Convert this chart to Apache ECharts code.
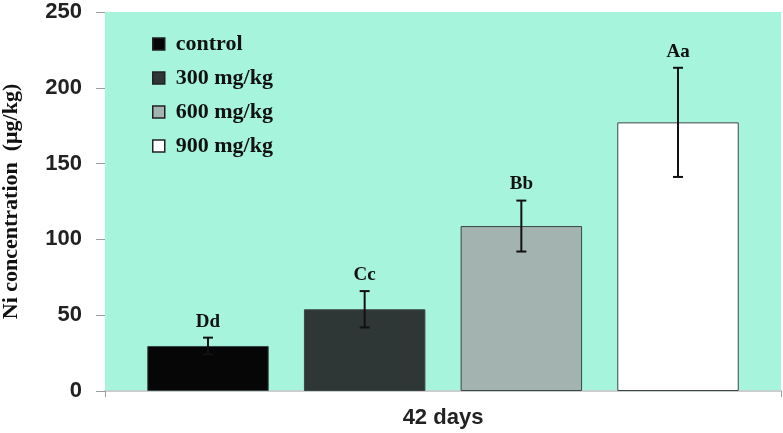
<!DOCTYPE html>
<html><head><meta charset="utf-8">
<script src="https://cdn.jsdelivr.net/npm/echarts@6/dist/echarts.min.js"></script>
<style>html,body{margin:0;padding:0;background:#fff}#c{width:783px;height:433px}</style>
</head><body><div id="c"></div>
<script>
const categories = ['42 days'];
const seriesNames = ['control', '300 mg/kg', '600 mg/kg', '900 mg/kg'];
const means = [29.7, 53.9, 108.8, 177.2];
const errors = [5.5, 12.0, 16.8, 36.0];
const letters = ['Dd', 'Cc', 'Bb', 'Aa'];
const colors = ['#060606', '#2f3636', '#a3b3b0', '#ffffff'];
const yTicks = [0, 50, 100, 150, 200, 250];

const CAT_GAP = 0.125, BAR_GAP = 0.29;
const chart = echarts.init(document.getElementById('c'));
const serif = '"Liberation Serif", "Times New Roman", serif';
const sans = 'Arial, "Liberation Sans", sans-serif';

const barSeries = seriesNames.map((n, i) => ({
  name: n, type: 'bar', data: [means[i]],
  barCategoryGap: (CAT_GAP * 100) + '%', barGap: (BAR_GAP * 100) + '%',
  itemStyle: { color: colors[i], borderColor: '#3a4646', borderWidth: 1 },
  legendHoverLink: false
}));

const errSeries = seriesNames.map((n, i) => ({
  type: 'custom',
  data: [[0, means[i], errors[i]]],
  encode: { x: 0, y: 1 },
  z: 5,
  renderItem: function (params, api) {
    const v = api.value(1), e = api.value(2);
    const bandW = api.size([1, 0])[0];
    const totalW = bandW * (1 - CAT_GAP);
    const bw = totalW / (seriesNames.length + (seriesNames.length - 1) * BAR_GAP);
    const cx = api.coord([0, v])[0] - totalW / 2 + bw / 2 + i * bw * (1 + BAR_GAP);
    const yTop = api.coord([0, v + e])[1];
    const yBot = api.coord([0, v - e])[1];
    const cap = 5;
    const st = { stroke: '#111', lineWidth: 2 };
    return {
      type: 'group', children: [
        { type: 'line', shape: { x1: cx, y1: yTop, x2: cx, y2: yBot }, style: st },
        { type: 'line', shape: { x1: cx - cap, y1: yTop, x2: cx + cap, y2: yTop }, style: st },
        { type: 'line', shape: { x1: cx - cap, y1: yBot, x2: cx + cap, y2: yBot }, style: st },
        { type: 'text', x: cx, y: yTop - 16, style: { text: letters[i], fill: '#111', font: 'bold 19px ' + serif, align: 'center', verticalAlign: 'middle' } }
      ]
    };
  }
}));

chart.setOption({
  backgroundColor: '#ffffff',
  animation: false,
  grid: { left: 105, right: 2, top: 12, bottom: 42, show: true, backgroundColor: '#a6f4db', borderWidth: 0, outerBoundsMode: 'none', containLabel: false },
  legend: {
    data: seriesNames, orient: 'vertical', left: 147, top: 28, itemWidth: 12, itemHeight: 12, itemGap: 12,
    icon: 'rect',
    textStyle: { fontFamily: serif, fontWeight: 'bold', fontSize: 22, color: '#111', padding: [0, 0, 0, 6] },
    itemStyle: { borderColor: '#222', borderWidth: 1.5 }
  },
  xAxis: {
    type: 'category', data: categories,
    axisLine: { show: true, lineStyle: { color: '#c9cfcf', width: 2 } },
    axisTick: { show: true, length: 6, lineStyle: { color: '#9aa0a0' } },
    axisLabel: { fontFamily: sans, fontWeight: 'bold', fontSize: 22, color: '#222', margin: 16 }
  },
  yAxis: {
    type: 'value', min: yTicks[0], max: yTicks[yTicks.length - 1], interval: 50,
    name: 'Ni concentration  (μg/kg)', nameLocation: 'middle', nameGap: 83, nameRotate: 90,
    nameTextStyle: { fontFamily: serif, fontWeight: 'bold', fontSize: 22, color: '#111' },
    axisLine: { show: false },
    axisTick: { show: true, length: 9, lineStyle: { color: '#9aa0a0' } },
    splitLine: { show: false },
    axisLabel: { fontFamily: sans, fontWeight: 'bold', fontSize: 22, color: '#222', margin: 23 }
  },
  series: barSeries.concat(errSeries)
});
</script></body></html>
